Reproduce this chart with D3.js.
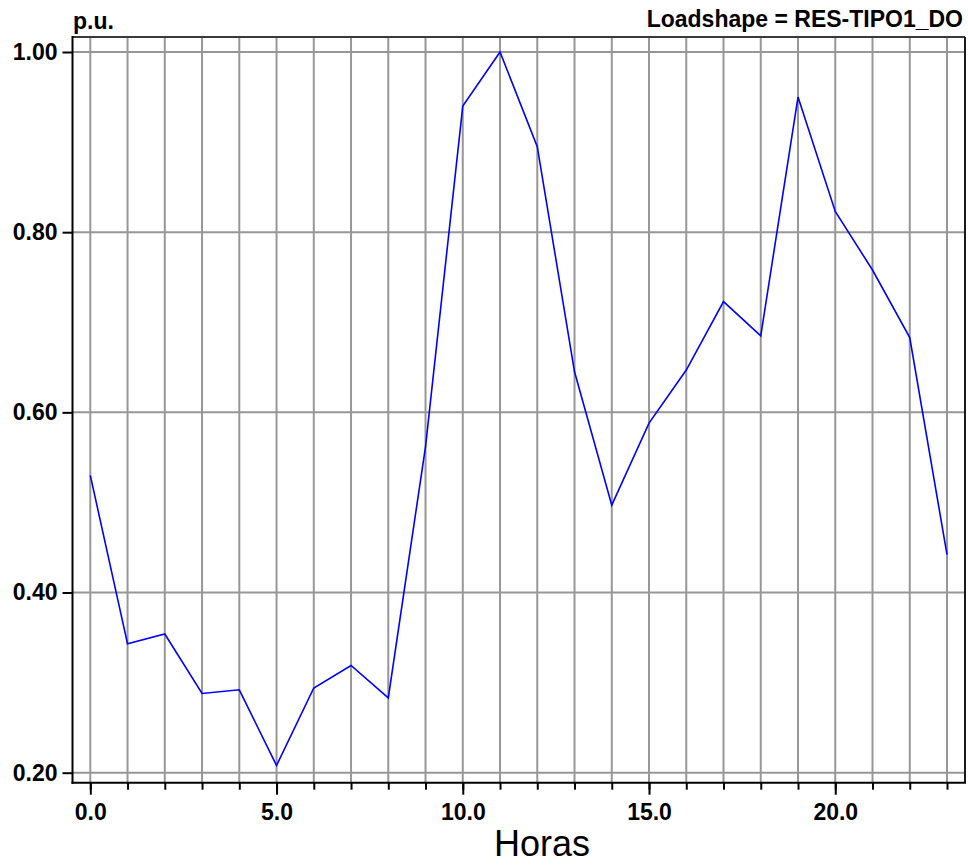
<!DOCTYPE html>
<html>
<head>
<meta charset="utf-8">
<script src="https://cdn.jsdelivr.net/npm/d3@7"></script>
<style>
  html, body { margin: 0; padding: 0; background: #fff; }
  svg text { font-family: "Liberation Sans", Arial, sans-serif; fill: #000; }
</style>
</head>
<body>
<svg id="chart" width="968" height="865"></svg>
<script>
// Hourly load shape (p.u.), hours 0..23
const hours = d3.range(0, 24);
const loadValues = [
  0.530, 0.343, 0.354, 0.288, 0.292, 0.208, 0.294, 0.319,
  0.283, 0.562, 0.940, 1.000, 0.895, 0.645, 0.497, 0.588,
  0.647, 0.723, 0.685, 0.950, 0.823, 0.758, 0.683, 0.442
];
const yTickValues = [0.2, 0.4, 0.6, 0.8, 1.0];
const xMajorTicks = [0, 5, 10, 15, 20];
const titleLeft = "p.u.";
const titleRight = "Loadshape = RES-TIPO1_DO";
const xAxisTitle = "Horas";

const svg = d3.select("#chart");

// Plot frame
const frame = { left: 72.5, right: 965, top: 37, bottom: 782.7 };

const x = d3.scaleLinear().domain([0, 23]).range([90.3, 947]);
const y = d3.scaleLinear().domain([0.2, 1.0]).range([772.7, 52]);

const gridColor = "#979797";
const labelSize = 23;

// Vertical grid lines at every hour
svg.append("g")
  .selectAll("line")
  .data(hours)
  .join("line")
  .attr("x1", d => x(d)).attr("x2", d => x(d))
  .attr("y1", frame.top).attr("y2", frame.bottom)
  .attr("stroke", gridColor).attr("stroke-width", 2);

// Horizontal grid lines
svg.append("g")
  .selectAll("line")
  .data(yTickValues)
  .join("line")
  .attr("x1", frame.left).attr("x2", frame.right)
  .attr("y1", d => y(d)).attr("y2", d => y(d))
  .attr("stroke", gridColor).attr("stroke-width", 2);

// Frame border
svg.append("line").attr("x1", frame.left).attr("x2", frame.right)
  .attr("y1", frame.top).attr("y2", frame.top)
  .attr("stroke", "#3a3a3a").attr("stroke-width", 2);
svg.append("line").attr("x1", frame.right).attr("x2", frame.right)
  .attr("y1", frame.top).attr("y2", frame.bottom)
  .attr("stroke", "#1a1a1a").attr("stroke-width", 2);
svg.append("line").attr("x1", frame.left).attr("x2", frame.left)
  .attr("y1", frame.top - 1).attr("y2", frame.bottom + 1)
  .attr("stroke", "#000").attr("stroke-width", 2);
svg.append("line").attr("x1", frame.left - 1).attr("x2", frame.right + 1)
  .attr("y1", frame.bottom).attr("y2", frame.bottom)
  .attr("stroke", "#000").attr("stroke-width", 2);

// Y axis: ticks and labels
const yAxis = d3.axisLeft(y)
  .tickValues(yTickValues)
  .tickSize(10)
  .tickPadding(5)
  .tickFormat(d3.format(".2f"));
const yAxisG = svg.append("g")
  .attr("transform", `translate(${frame.left},0)`)
  .call(yAxis);
yAxisG.select(".domain").remove();
yAxisG.selectAll(".tick line").attr("stroke", "#000").attr("stroke-width", 2);
yAxisG.selectAll(".tick text")
  .attr("font-size", labelSize).attr("font-weight", "bold")
  .attr("font-family", "Liberation Sans, Arial, sans-serif")
  .attr("fill", "#000");

// X axis: minor ticks every hour
const xMinor = d3.axisBottom(x)
  .tickValues(hours)
  .tickSize(7)
  .tickFormat("");
const xMinorG = svg.append("g")
  .attr("transform", `translate(0,${frame.bottom})`)
  .call(xMinor);
xMinorG.select(".domain").remove();
xMinorG.selectAll(".tick line").attr("stroke", "#000").attr("stroke-width", 2);

// X axis: major ticks with labels
const xMajor = d3.axisBottom(x)
  .tickValues(xMajorTicks)
  .tickSize(12)
  .tickPadding(9)
  .tickFormat(d3.format(".1f"));
const xMajorG = svg.append("g")
  .attr("transform", `translate(0,${frame.bottom})`)
  .call(xMajor);
xMajorG.select(".domain").remove();
xMajorG.selectAll(".tick line").attr("stroke", "#000").attr("stroke-width", 2);
xMajorG.selectAll(".tick text")
  .attr("font-size", labelSize).attr("font-weight", "bold")
  .attr("font-family", "Liberation Sans, Arial, sans-serif")
  .attr("fill", "#000");

// Load curve
const line = d3.line()
  .x((d, i) => x(hours[i]))
  .y(d => y(d));
svg.append("path")
  .datum(loadValues)
  .attr("d", line)
  .attr("fill", "none")
  .attr("stroke", "#0000ff")
  .attr("stroke-width", 1.6);

// Titles
svg.append("text")
  .attr("x", 73).attr("y", 29)
  .attr("font-size", labelSize).attr("font-weight", "bold")
  .text(titleLeft);
svg.append("text")
  .attr("x", 963).attr("y", 27)
  .attr("text-anchor", "end")
  .attr("font-size", labelSize).attr("font-weight", "bold")
  .text(titleRight);
svg.append("text")
  .attr("x", 542).attr("y", 856)
  .attr("text-anchor", "middle")
  .attr("font-size", 36)
  .text(xAxisTitle);
</script>
</body>
</html>
